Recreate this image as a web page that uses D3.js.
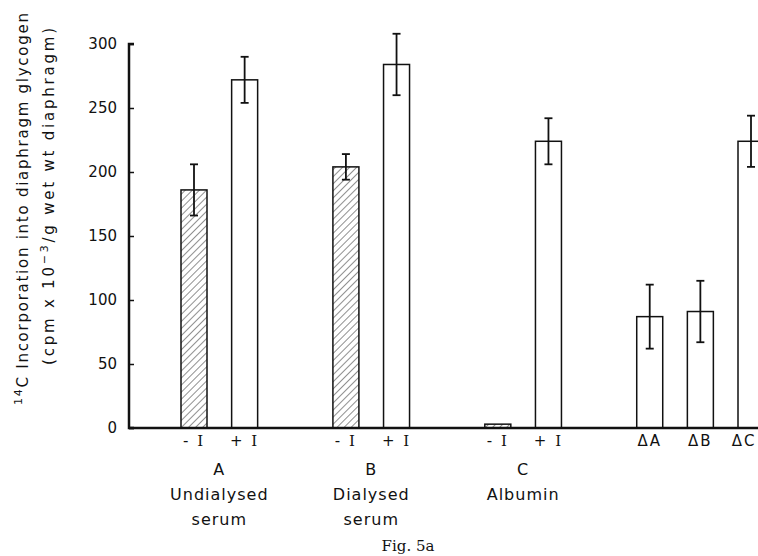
<!DOCTYPE html>
<html>
<head>
<meta charset="utf-8">
<script src="https://cdn.jsdelivr.net/npm/d3@7"></script>
<style>
  body { margin: 0; background: #fff; }
  svg { display: block; }
  text { font-family: "DejaVu Sans", sans-serif; fill: #111; }
</style>
</head>
<body>
<svg id="chart"></svg>
<script>
// data
const barLabels = ['- I', '+ I', '- I', '+ I', '- I', '+ I', 'ΔA', 'ΔB', 'ΔC'];
const slots = [0, 1, 3, 4, 6, 7, 9, 10, 11];
const values = [186, 272, 204, 284, 3, 224, 87, 91, 224];
const errors = [20, 18, 10, 24, 0, 18, 25, 24, 20];
const hatched = [true, false, true, false, true, false, false, false, false];
const groups = [
    { at: 0.5, lines: ['A', 'Undialysed', 'serum'] },
    { at: 3.5, lines: ['B', 'Dialysed', 'serum'] },
    { at: 6.5, lines: ['C', 'Albumin'] }
];
const yTicks = [0, 50, 100, 150, 200, 250, 300];

const width = 758, height = 556;
const svg = d3.select('#chart').attr('width', width).attr('height', height);

const defs = svg.append('defs');
const pat = defs.append('pattern')
    .attr('id', 'hatch')
    .attr('patternUnits', 'userSpaceOnUse')
    .attr('width', 5).attr('height', 5)
    .attr('patternTransform', 'rotate(45)');
pat.append('line')
    .attr('x1', 0).attr('y1', 0).attr('x2', 0).attr('y2', 5)
    .attr('stroke', '#222').attr('stroke-width', 1);

const xAxisX = 129;
const y = d3.scaleLinear().domain([0, 300]).range([428, 44]);
const x = d3.scaleLinear().domain([0, 11]).range([194, 751]);
const barW = 26;

// y axis, ticks pointing inward
const yAxis = d3.axisRight(y).tickValues(yTicks).tickSize(5).tickFormat('');
const gy = svg.append('g').attr('transform', `translate(${xAxisX},0)`).call(yAxis);
gy.select('.domain').attr('stroke', '#111').attr('stroke-width', 2.5)
    .attr('d', `M5,${y(300)}H0V${y(0)}H5`);
gy.selectAll('.tick line').attr('stroke', '#111').attr('stroke-width', 1.5);

svg.append('g').selectAll('text')
    .data(yTicks)
    .join('text')
    .attr('x', 117)
    .attr('y', d => y(d) + 5)
    .attr('text-anchor', 'end')
    .attr('font-size', 15)
    .text(d => d);

// bars
const bars = svg.append('g');
bars.selectAll('rect')
    .data(values)
    .join('rect')
    .attr('x', (d, i) => x(slots[i]) - barW / 2)
    .attr('y', d => y(d))
    .attr('width', barW)
    .attr('height', d => y(0) - y(d))
    .attr('fill', (d, i) => hatched[i] ? 'url(#hatch)' : '#fff')
    .attr('stroke', '#111')
    .attr('stroke-width', 1.5);

// error bars
const eb = svg.append('g').attr('stroke', '#111').attr('stroke-width', 1.8);
values.forEach((v, i) => {
    if (!errors[i]) return;
    const cx = x(slots[i]);
    const y1 = y(v + errors[i]), y2 = y(v - errors[i]);
    eb.append('line').attr('x1', cx).attr('x2', cx).attr('y1', y1).attr('y2', y2);
    eb.append('line').attr('x1', cx - 4).attr('x2', cx + 4).attr('y1', y1).attr('y2', y1);
    eb.append('line').attr('x1', cx - 4).attr('x2', cx + 4).attr('y1', y2).attr('y2', y2);
});

// baseline
svg.append('line')
    .attr('x1', xAxisX).attr('x2', width)
    .attr('y1', y(0)).attr('y2', y(0))
    .attr('stroke', '#111').attr('stroke-width', 2.5);

// bar labels (last one pulled in a little so it stays on the page)
const bl = svg.append('g').selectAll('text')
    .data(barLabels)
    .join('text')
    .attr('x', (d, i) => Math.min(x(slots[i]), 744))
    .attr('y', 446)
    .attr('text-anchor', 'middle')
    .attr('font-size', 15)
    .attr('letter-spacing', 2);
bl.each(function(d) {
    const t = d3.select(this);
    if (d.endsWith('I')) {
        t.append('tspan').text(d.slice(0, -1));
        t.append('tspan').style('font-family', '"DejaVu Serif", serif').text('I');
    } else {
        t.text(d);
    }
});

// group labels
groups.forEach(g => {
    g.lines.forEach((t, k) => {
        svg.append('text')
            .attr('x', x(g.at))
            .attr('y', 475 + k * 25)
            .attr('text-anchor', 'middle')
            .attr('font-size', 16)
            .attr('letter-spacing', 1)
            .text(t);
    });
});

// y label
const yl = svg.append('g').attr('transform', 'rotate(-90)');
const t1 = yl.append('text').attr('x', -405).attr('y', 28)
    .attr('font-size', 15)
    .attr('textLength', 392).attr('lengthAdjust', 'spacing');
t1.append('tspan').attr('font-size', 11).attr('dy', -6).text('14');
t1.append('tspan').attr('dy', 6).text('C Incorporation into diaphragm glycogen');
const t2 = yl.append('text').attr('x', -365).attr('y', 54)
    .attr('font-size', 15)
    .attr('textLength', 337).attr('lengthAdjust', 'spacing');
t2.append('tspan').text('(cpm x 10');
t2.append('tspan').attr('font-size', 11).attr('dy', -6).text('−3');
t2.append('tspan').attr('dy', 6).text('/g wet wt diaphragm)');

// caption
svg.append('text')
    .attr('x', 408).attr('y', 551)
    .attr('text-anchor', 'middle')
    .style('font-family', '"DejaVu Serif", serif')
    .attr('font-size', 15)
    .text('Fig. 5a');
</script>
</body>
</html>
